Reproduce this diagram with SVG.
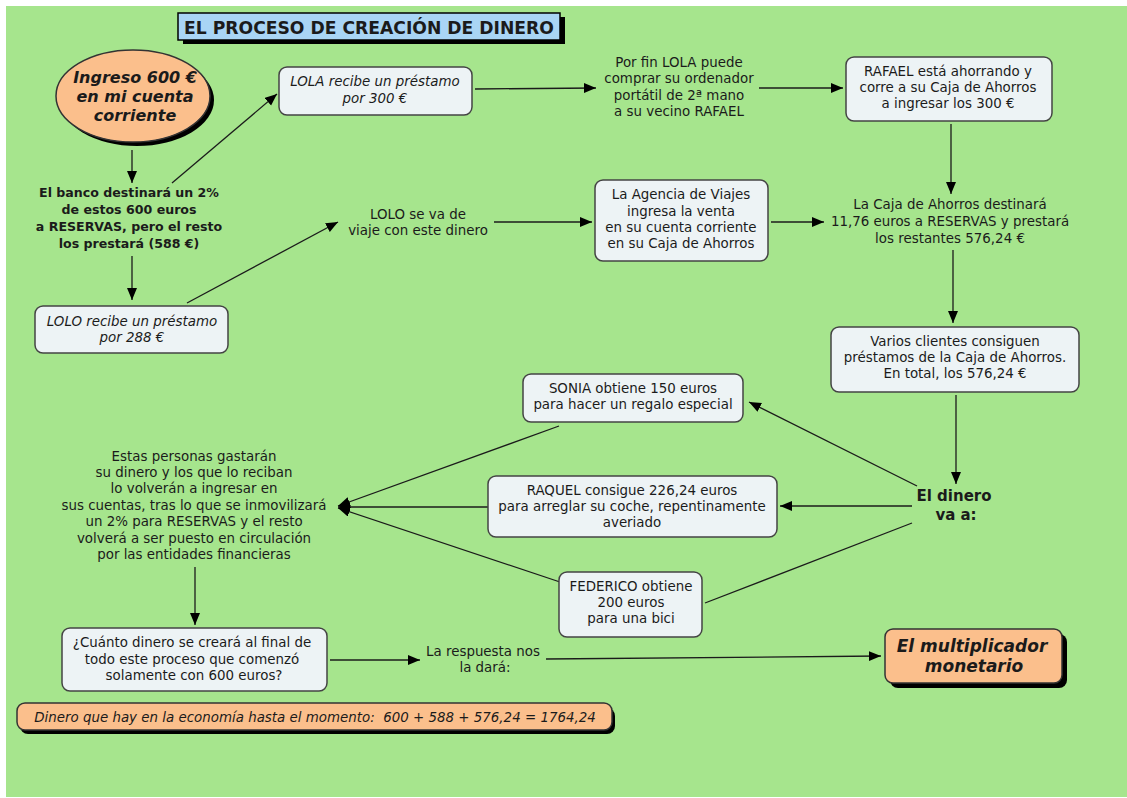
<svg xmlns="http://www.w3.org/2000/svg" width="1127" height="798" viewBox="0 0 1127 798">
<style>
text{font-family:"DejaVu Sans","Open Sans",sans-serif;fill:#1b1b1b;text-anchor:middle;}
.t{font-size:13.4px;}
.i{font-size:13.4px;font-style:italic;}
.b{font-size:12.6px;font-weight:bold;}
.bi{font-weight:bold;font-style:italic;}
.box{fill:#edf3f5;stroke:#444;stroke-width:1.5;}
.peach{fill:#fbbf8c;stroke:#333;stroke-width:1.5;}
.sh{fill:#000;}
.c{fill:none;stroke:#1b1b1b;stroke-width:1.3;}
.a{marker-end:url(#ah);}
</style>
<defs>
<marker id="ah" markerUnits="userSpaceOnUse" markerWidth="13" markerHeight="11" refX="12" refY="5" orient="auto" viewBox="0 0 13 11">
<path d="M0,0 L12,5 L0,10 z" fill="#000"/>
</marker>
</defs>
<rect x="0" y="0" width="1127" height="798" fill="#ffffff"/>
<rect x="6" y="6" width="1121" height="791" fill="#a6e58d"/>

<g id="title">
<rect x="183" y="17" width="382" height="27" class="sh"/>
<rect x="178" y="13" width="382" height="27" fill="#a9d5f5" stroke="#000" stroke-width="1.5"/>
<text x="369" y="33.5" style="font-size:17.2px;font-weight:bold">EL PROCESO DE CREACIÓN DE DINERO</text>
</g>

<g id="connectors">
<line class="c a" x1="132" y1="150" x2="132" y2="183"/>
<line class="c a" x1="132" y1="256" x2="132" y2="300"/>
<line class="c a" x1="172" y1="183" x2="277" y2="94"/>
<line class="c a" x1="187" y1="303" x2="338" y2="222"/>
<line class="c a" x1="475" y1="89" x2="596" y2="88"/>
<line class="c a" x1="759" y1="88" x2="843" y2="88"/>
<line class="c a" x1="494" y1="222" x2="592" y2="222"/>
<line class="c a" x1="771" y1="222" x2="824" y2="222"/>
<line class="c a" x1="951" y1="124" x2="951" y2="194"/>
<line class="c a" x1="953" y1="250" x2="953" y2="323"/>
<line class="c a" x1="956" y1="395" x2="956" y2="484"/>
<line class="c a" x1="917" y1="486" x2="749" y2="402"/>
<line class="c a" x1="912" y1="506" x2="780" y2="506"/>
<line class="c" x1="912" y1="523" x2="705" y2="603"/>
<line class="c a" x1="559" y1="426" x2="338" y2="506"/>
<line class="c a" x1="488" y1="507" x2="338" y2="507"/>
<line class="c a" x1="560" y1="582" x2="338" y2="508"/>
<line class="c a" x1="195" y1="567" x2="195" y2="625"/>
<line class="c a" x1="330" y1="660" x2="420" y2="660"/>
<line class="c a" x1="546" y1="659" x2="881" y2="656"/>
</g>

<g id="ingreso">
<ellipse cx="137" cy="100" rx="77" ry="46" class="sh"/>
<ellipse cx="133" cy="96" rx="77" ry="46" class="peach"/>
<text class="bi" style="font-size:16px" x="135" y="83">Ingreso 600 €</text>
<text class="bi" style="font-size:16px" x="135" y="102">en mi cuenta</text>
<text class="bi" style="font-size:16px" x="135" y="121">corriente</text>
</g>

<g id="banco">
<text class="b" x="129" y="197">El banco destinará un 2%</text>
<text class="b" x="129" y="214">de estos 600 euros</text>
<text class="b" x="129" y="231">a RESERVAS, pero el resto</text>
<text class="b" x="129" y="248">los prestará (588 €)</text>
</g>

<g id="lolo">
<rect x="35" y="306" width="193" height="47" rx="8" class="box"/>
<text class="i" x="132" y="326">LOLO recibe un préstamo</text>
<text class="i" x="132" y="342">por 288 €</text>
</g>

<g id="lola">
<rect x="279" y="67" width="193" height="48" rx="8" class="box"/>
<text class="i" x="375" y="86">LOLA recibe un préstamo</text>
<text class="i" x="375" y="103">por 300 €</text>
</g>

<g id="lolo-viaje">
<text class="t" x="418" y="219">LOLO se va de</text>
<text class="t" x="418" y="235">viaje con este dinero</text>
</g>

<g id="porfin">
<text class="t" x="679" y="67">Por fin LOLA puede</text>
<text class="t" x="679" y="83">comprar su ordenador</text>
<text class="t" x="679" y="100">portátil de 2ª mano</text>
<text class="t" x="679" y="116">a su vecino RAFAEL</text>
</g>

<g id="rafael">
<rect x="846" y="57" width="206" height="64" rx="8" class="box"/>
<text class="t" x="948" y="76">RAFAEL está ahorrando y</text>
<text class="t" x="948" y="92">corre a su Caja de Ahorros</text>
<text class="t" x="948" y="108">a ingresar los 300 €</text>
</g>

<g id="agencia">
<rect x="595" y="180" width="173" height="81" rx="8" class="box"/>
<text class="t" x="681" y="199">La Agencia de Viajes</text>
<text class="t" x="681" y="216">ingresa la venta</text>
<text class="t" x="681" y="232">en su cuenta corriente</text>
<text class="t" x="681" y="248">en su Caja de Ahorros</text>
</g>

<g id="caja">
<text class="t" x="950" y="209">La Caja de Ahorros destinará</text>
<text class="t" x="950" y="226">11,76 euros a RESERVAS y prestará</text>
<text class="t" x="950" y="243">los restantes 576,24 €</text>
</g>

<g id="varios">
<rect x="831" y="327" width="248" height="65" rx="8" class="box"/>
<text class="t" x="955" y="346">Varios clientes consiguen</text>
<text class="t" x="955" y="362">préstamos de la Caja de Ahorros.</text>
<text class="t" x="955" y="378">En total, los 576,24 €</text>
</g>

<g id="dinero">
<text style="font-size:15px;font-weight:bold" x="954" y="501">El dinero</text>
<text style="font-size:15px;font-weight:bold" x="956" y="520">va a:</text>
</g>

<g id="sonia">
<rect x="523" y="374" width="220" height="48" rx="8" class="box"/>
<text class="t" x="633" y="393">SONIA obtiene 150 euros</text>
<text class="t" x="633" y="409">para hacer un regalo especial</text>
</g>

<g id="raquel">
<rect x="488" y="476" width="289" height="61" rx="8" class="box"/>
<text class="t" x="632" y="495">RAQUEL consigue 226,24 euros</text>
<text class="t" x="632" y="511">para arreglar su coche, repentinamente</text>
<text class="t" x="632" y="527">averiado</text>
</g>

<g id="federico">
<rect x="559" y="572" width="143" height="65" rx="8" class="box"/>
<text class="t" x="631" y="591">FEDERICO obtiene</text>
<text class="t" x="631" y="607">200 euros</text>
<text class="t" x="631" y="623">para una bici</text>
</g>

<g id="estas">
<text class="t" x="194" y="461">Estas personas gastarán</text>
<text class="t" x="194" y="477">su dinero y los que lo reciban</text>
<text class="t" x="194" y="493">lo volverán a ingresar en</text>
<text class="t" x="194" y="510">sus cuentas, tras lo que se inmovilizará</text>
<text class="t" x="194" y="526">un 2% para RESERVAS y el resto</text>
<text class="t" x="194" y="543">volverá a ser puesto en circulación</text>
<text class="t" x="194" y="559">por las entidades financieras</text>
</g>

<g id="cuanto">
<rect x="62" y="628" width="265" height="63" rx="8" class="box"/>
<text class="t" x="192" y="647">¿Cuánto dinero se creará al final de</text>
<text class="t" x="192" y="664">todo este proceso que comenzó</text>
<text class="t" x="194" y="680">solamente con 600 euros?</text>
</g>

<g id="respuesta">
<text class="t" x="483" y="656">La respuesta nos</text>
<text class="t" x="485" y="672">la dará:</text>
</g>

<g id="multiplicador">
<rect x="890" y="634" width="177" height="54" rx="8" class="sh"/>
<rect x="885" y="629" width="177" height="54" rx="8" class="peach"/>
<text class="bi" style="font-size:17px" x="972" y="652">El multiplicador</text>
<text class="bi" style="font-size:17px" x="974" y="672">monetario</text>
</g>

<g id="total">
<rect x="20" y="708" width="595" height="26" rx="8" class="sh"/>
<rect x="17" y="703" width="595" height="27" rx="8" class="peach"/>
<text class="i" x="315" y="722" xml:space="preserve">Dinero que hay en la economía hasta el momento:  600 + 588 + 576,24 = 1764,24</text>
</g>
</svg>
